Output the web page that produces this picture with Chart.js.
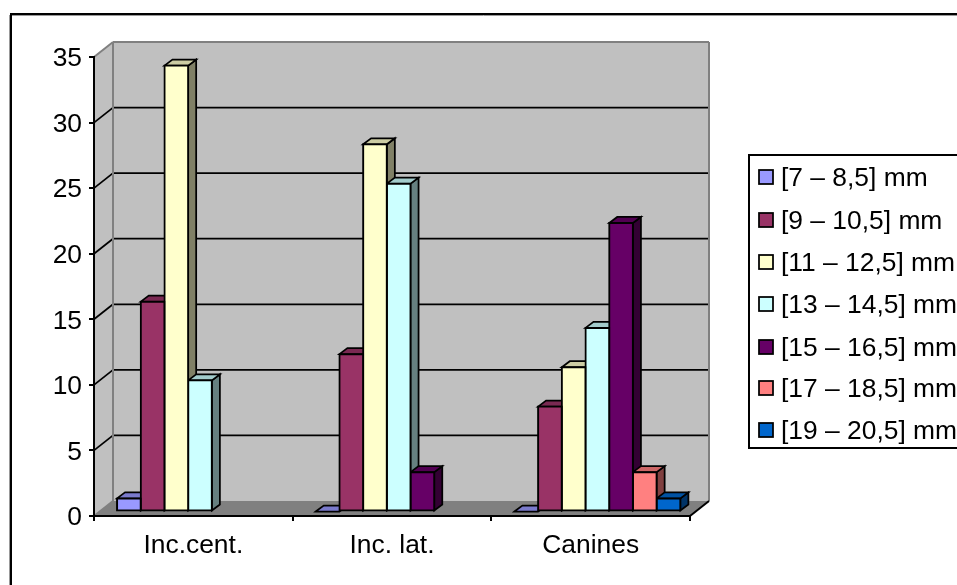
<!DOCTYPE html>
<html>
<head>
<meta charset="utf-8">
<style>
  html, body { margin: 0; padding: 0; background: #fff; overflow: hidden; }
  canvas { display: block; }
</style>
<script src="https://cdn.jsdelivr.net/npm/chart.js@4/dist/chart.umd.min.js"></script>
</head>
<body>
<canvas id="chart" width="957" height="585"></canvas>
<script>
const categories = ['Inc.cent.', 'Inc. lat.', 'Canines'];
const seriesNames = ['[7 – 8,5] mm', '[9 – 10,5] mm', '[11 – 12,5] mm', '[13 – 14,5] mm', '[15 – 16,5] mm', '[17 – 18,5] mm', '[19 – 20,5] mm'];
const s7to8 = [1, 0, 0];
const s9to10 = [16, 12, 8];
const s11to12 = [34, 28, 11];
const s13to14 = [10, 25, 14];
const s15to16 = [null, 3, 22];
const s17to18 = [null, null, 3];
const s19to20 = [null, null, 1];
const seriesValues = [s7to8, s9to10, s11to12, s13to14, s15to16, s17to18, s19to20];
const colors = ['#9999FF', '#993366', '#FFFFCC', '#CCFFFF', '#660066', '#FF8080', '#0066CC'];

const FONT = '"Liberation Sans", Arial, sans-serif';
const FONT_SIZE = 26.4;
// wall depth, and how far into it the bars stand
const WALL_DX = 19, WALL_DY = -15;
const BAR_DX = 6.7, BAR_DY = -4.5;
const BAR_DEPTH_X = 8, BAR_DEPTH_Y = -6;

function shade(hex, k) {
  const n = parseInt(hex.slice(1), 16);
  return 'rgb(' + [(n >> 16) & 255, (n >> 8) & 255, n & 255].map(c => Math.round(c * k)).join(',') + ')';
}

function poly(ctx, pts, fill, stroke, lw) {
  ctx.beginPath();
  pts.forEach((p, i) => i ? ctx.lineTo(p[0], p[1]) : ctx.moveTo(p[0], p[1]));
  ctx.closePath();
  if (fill) { ctx.fillStyle = fill; ctx.fill(); }
  if (stroke) { ctx.strokeStyle = stroke; ctx.lineWidth = lw; ctx.lineJoin = 'miter'; ctx.stroke(); }
}

function line(ctx, x1, y1, x2, y2, color, lw) {
  ctx.beginPath();
  ctx.moveTo(x1, y1);
  ctx.lineTo(x2, y2);
  ctx.strokeStyle = color;
  ctx.lineWidth = lw;
  ctx.stroke();
}

// frame, walls, floor and gridlines, under the axes
const wallsPlugin = {
  id: 'walls',
  beforeDraw(chart) {
    const ctx = chart.ctx, a = chart.chartArea, y = chart.scales.y;
    const l = a.left, r = a.right, t = a.top, b = a.bottom;
    ctx.save();
    ctx.fillStyle = '#fff';
    ctx.fillRect(0, 0, chart.width, chart.height);
    // the frame runs off the right and bottom of the picture
    line(ctx, 9.5, 15, 9.5, chart.height, '#999', 1);
    line(ctx, 10, 15.5, chart.width, 15.5, '#999', 1);
    line(ctx, 11, 14, 11, chart.height, '#000', 2);
    line(ctx, 10, 14, chart.width, 14, '#000', 2);

    poly(ctx, [[l, t], [l + WALL_DX, t + WALL_DY], [l + WALL_DX, b + WALL_DY], [l, b]], '#C0C0C0');
    poly(ctx, [[l + WALL_DX, t + WALL_DY], [r + WALL_DX, t + WALL_DY], [r + WALL_DX, b + WALL_DY], [l + WALL_DX, b + WALL_DY]], '#C0C0C0');
    poly(ctx, [[l, b], [l + WALL_DX, b + WALL_DY], [r + WALL_DX, b + WALL_DY], [r, b]], '#808080');

    y.ticks.forEach(tick => {
      const py = y.getPixelForValue(tick.value);
      if (tick.value > 0 && tick.value < y.max) {
        line(ctx, l, py, l + WALL_DX, py + WALL_DY, '#000', 1.75);
        line(ctx, l + WALL_DX, py + WALL_DY, r + WALL_DX, py + WALL_DY, '#000', 1.75);
      }
    });
    line(ctx, l + WALL_DX, t + WALL_DY, r + WALL_DX, t + WALL_DY, '#808080', 2);
    line(ctx, l, t, l + WALL_DX, t + WALL_DY, '#808080', 2);
    line(ctx, l + WALL_DX, t + WALL_DY, l + WALL_DX, b + WALL_DY, '#808080', 2);
    line(ctx, r + WALL_DX, t + WALL_DY, r + WALL_DX, b + WALL_DY, '#808080', 2);
    line(ctx, l, b, l + WALL_DX, b + WALL_DY, '#808080', 2);
    line(ctx, r, b, r + WALL_DX, b + WALL_DY, '#000', 2);
    ctx.restore();

    // y tick labels sit 2px lower in the reference
    if (!y._shifted) {
      const drawLabels = y.drawLabels;
      y.drawLabels = function (area) {
        this.ctx.save();
        this.ctx.translate(0, 2);
        drawLabels.call(this, area);
        this.ctx.restore();
      };
      y._shifted = true;
    }
  }
};

// top and side faces of each bar, left to right; the front face is the normal Chart.js bar
const bars3dPlugin = {
  id: 'bars3d',
  beforeDatasetsDraw(chart) {
    const ctx = chart.ctx;
    ctx.save();
    ctx.translate(BAR_DX, BAR_DY);
    categories.forEach((cat, i) => {
      seriesValues.forEach((values, s) => {
        if (values[i] === null) return;
        const bar = chart.getDatasetMeta(s).data[i];
        const { x, y, base, width } = bar.getProps(['x', 'y', 'base', 'width'], true);
        const x1 = x - width / 2, x2 = x + width / 2;
        if (base > y) {
          poly(ctx, [[x2, y], [x2 + BAR_DEPTH_X, y + BAR_DEPTH_Y], [x2 + BAR_DEPTH_X, base + BAR_DEPTH_Y], [x2, base]], shade(colors[s], 0.5), '#000', 1.75);
        }
        poly(ctx, [[x1, y], [x1 + BAR_DEPTH_X, y + BAR_DEPTH_Y], [x2 + BAR_DEPTH_X, y + BAR_DEPTH_Y], [x2, y]], shade(colors[s], 0.8), '#000', 1.75);
      });
    });
  },
  afterDatasetsDraw(chart) {
    chart.ctx.restore();
  }
};

const legendPlugin = {
  id: 'boxLegend',
  afterDraw(chart) {
    const ctx = chart.ctx;
    const rowY = [177, 220, 262, 304, 347, 388, 430];
    ctx.save();
    ctx.strokeStyle = '#000';
    ctx.lineWidth = 2;
    ctx.fillStyle = '#fff';
    ctx.fillRect(749, 155, 220, 293);
    ctx.strokeRect(749, 155, 220, 293);
    ctx.font = FONT_SIZE + 'px ' + FONT;
    ctx.textBaseline = 'middle';
    chart.data.datasets.forEach((ds, i) => {
      ctx.fillStyle = ds.backgroundColor;
      ctx.fillRect(759, rowY[i] - 7, 14, 14);
      ctx.lineWidth = 1.75;
      ctx.strokeRect(759, rowY[i] - 7, 14, 14);
      ctx.fillStyle = '#000';
      ctx.fillText(ds.label, 781, rowY[i] + 2);
    });
    ctx.restore();
  }
};

new Chart(document.getElementById('chart'), {
  type: 'bar',
  data: {
    labels: categories,
    datasets: seriesNames.map((name, i) => ({
      label: name,
      data: seriesValues[i],
      backgroundColor: colors[i],
      borderColor: '#000',
      borderWidth: 2,
      borderSkipped: false,
      inflateAmount: 1,
      clip: false,
      barPercentage: 1,
      categoryPercentage: 0.8355
    }))
  },
  options: {
    responsive: false,
    animation: false,
    devicePixelRatio: 1,
    layout: { padding: { left: 14, right: 267, top: 57, bottom: 0 } },
    plugins: { legend: { display: false }, tooltip: { enabled: false } },
    scales: {
      x: {
        afterFit(scale) { scale.height = 69; },
        grid: { drawOnChartArea: false, drawTicks: true, tickLength: 5, color: '#000', lineWidth: 2 },
        border: { display: true, color: '#000', width: 2 },
        ticks: { color: '#000', font: { family: FONT, size: FONT_SIZE }, padding: 9, maxRotation: 0 }
      },
      y: {
        min: 0,
        max: 35,
        afterFit(scale) { scale.width = 80; },
        grid: { drawOnChartArea: false, drawTicks: true, tickLength: 5, color: '#000', lineWidth: 2 },
        border: { display: true, color: '#000', width: 2 },
        ticks: { stepSize: 5, color: '#000', font: { family: FONT, size: FONT_SIZE }, padding: 7 }
      }
    }
  },
  plugins: [wallsPlugin, bars3dPlugin, legendPlugin]
});
</script>
</body>
</html>
